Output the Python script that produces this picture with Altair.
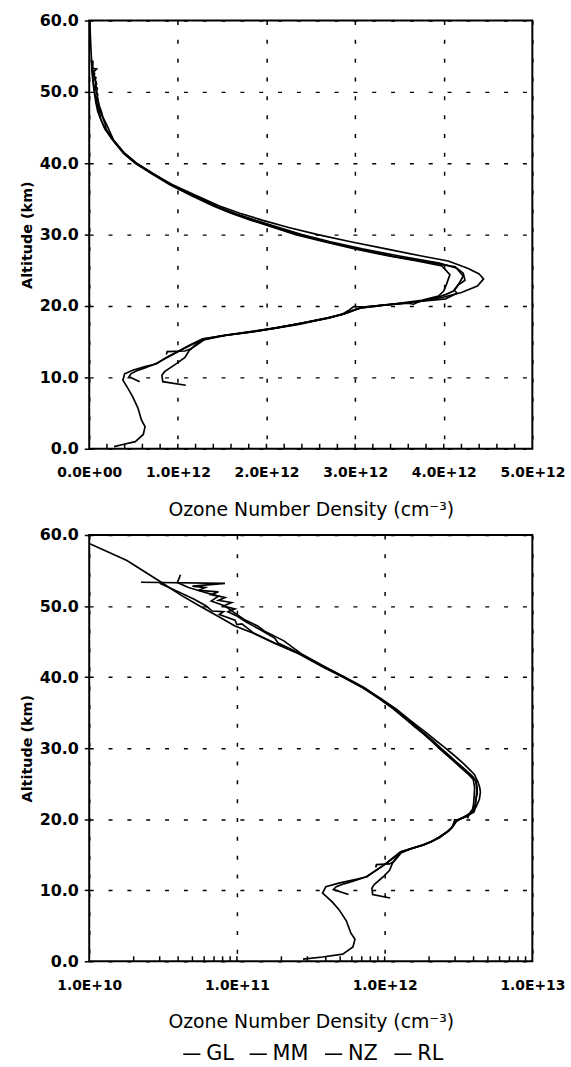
import altair as alt
import pandas as pd

SERIES = ["GL", "MM", "NZ", "RL"]

# Altitude (km) and ozone number density (units of 1e12 cm^-3)
GL_ALT = [60.0, 58.8, 56.4, 53.5, 51.5, 50.0, 48.4, 47.2, 46.2, 44.8, 43.3, 41.4, 40.0, 38.5, 37.0,
          35.5, 34.0, 33.0, 32.0, 31.0, 30.0, 29.0, 28.0, 27.0, 26.3, 25.3, 24.5, 23.8, 22.8, 21.9,
          21.2, 20.6, 20.1, 19.7, 19.0, 18.4, 17.6, 16.9, 16.4, 15.9, 15.4, 14.5, 13.5, 12.8, 11.9,
          11.5, 11.0, 10.5, 9.6, 8.4, 7.3, 5.7, 4.0, 3.1, 2.0, 1.0, 0.6, 0.3]
GL_VAL = [0.0085, 0.0100, 0.0180, 0.0300, 0.0420, 0.0560, 0.0770, 0.0970, 0.128, 0.178, 0.265, 0.390,
          0.525, 0.720, 0.940, 1.20, 1.47, 1.70, 1.96, 2.25, 2.58, 2.95, 3.35, 3.75, 4.05, 4.27, 4.40,
          4.45, 4.38, 4.20, 3.98, 3.70, 3.30, 3.05, 2.90, 2.72, 2.40, 2.10, 1.85, 1.55, 1.28, 1.13,
          0.98, 0.87, 0.76, 0.63, 0.49, 0.40, 0.38, 0.44, 0.49, 0.55, 0.59, 0.63, 0.61, 0.52, 0.38, 0.28]

MM_ALT = [54.4, 53.3, 52.6, 51.9, 51.4, 50.7, 50.0, 49.0, 48.1, 47.2, 46.5, 45.1, 43.3, 41.4, 40.0,
          38.5, 37.0, 35.5, 34.0, 33.0, 32.0, 31.0, 30.0, 29.0, 28.0, 27.0, 26.0, 25.5, 24.2, 23.3,
          22.1, 21.6, 21.2, 20.6, 20.25, 20.4, 19.9, 19.5, 18.9, 18.3, 17.5, 16.9, 16.4, 15.9, 15.4,
          14.6, 13.6, 12.8, 11.9, 11.3, 10.9, 10.5, 10.1, 9.4]
MM_VAL = [0.0415, 0.0395, 0.047, 0.061, 0.075, 0.067, 0.083, 0.097, 0.112, 0.138, 0.153, 0.208, 0.272,
          0.400, 0.535, 0.730, 0.930, 1.17, 1.42, 1.62, 1.85, 2.10, 2.36, 2.68, 3.02, 3.42, 3.88, 4.13,
          4.22, 4.18, 4.11, 4.02, 3.92, 3.72, 3.66, 3.60, 3.12, 3.00, 2.88, 2.68, 2.36, 2.08, 1.82,
          1.52, 1.30, 1.16, 1.00, 0.88, 0.75, 0.62, 0.53, 0.47, 0.45, 0.57]

NZ_ALT = [53.2, 52.0, 51.0, 50.0, 49.3, 49.2, 48.8, 48.0, 47.4, 47.5, 46.2, 44.8, 43.3, 41.4, 40.0,
          38.5, 37.0, 35.5, 34.0, 33.0, 32.0, 31.0, 30.0, 29.0, 28.0, 27.0, 26.3, 25.6, 24.4, 23.0,
          22.1, 21.4, 20.8, 20.3, 19.9, 19.9, 19.4, 18.8, 18.2, 17.4, 16.8, 16.3, 15.8, 15.2, 14.7,
          13.8, 12.8, 11.9, 10.8, 10.3, 9.4, 8.9]
NZ_VAL = [0.030, 0.040, 0.051, 0.062, 0.068, 0.081, 0.076, 0.097, 0.100, 0.108, 0.130, 0.180, 0.262,
          0.385, 0.52, 0.71, 0.91, 1.15, 1.40, 1.60, 1.83, 2.08, 2.33, 2.65, 3.00, 3.38, 3.70, 3.98,
          4.07, 4.03, 4.00, 3.94, 3.75, 3.45, 3.12, 2.98, 2.93, 2.85, 2.65, 2.35, 2.05, 1.80, 1.48,
          1.27, 1.21, 1.13, 1.08, 0.98, 0.85, 0.82, 0.83, 1.09]

RL_ALT = [53.35, 53.2, 52.8, 52.6, 52.2, 52.0, 51.6, 51.2, 50.8, 50.5, 50.0, 49.6, 49.2, 48.6, 47.8,
          46.8, 45.5, 44.8, 43.3, 41.4, 40.0, 38.5, 37.0, 35.5, 34.0, 33.0, 32.0, 31.0, 30.0, 29.0,
          28.0, 27.0, 26.0, 25.3, 24.6, 23.6, 23.0, 22.2, 21.8, 21.0, 20.6, 20.1, 19.7, 19.0, 18.3,
          17.6, 16.9, 16.4, 15.9, 15.3, 14.6, 14.0, 13.7, 13.6, 13.2]
RL_VAL = [0.0224, 0.083, 0.050, 0.061, 0.055, 0.075, 0.067, 0.083, 0.075, 0.092, 0.081, 0.097, 0.087,
          0.100, 0.115, 0.140, 0.180, 0.190, 0.270, 0.392, 0.530, 0.720, 0.930, 1.18, 1.43, 1.64,
          1.88, 2.14, 2.40, 2.72, 3.08, 3.50, 3.95, 4.15, 4.22, 4.24, 4.17, 4.12, 4.15, 4.02, 3.70,
          3.30, 3.05, 2.90, 2.70, 2.40, 2.10, 1.84, 1.55, 1.30, 1.22, 1.15, 1.08, 0.88, 0.87]

Y_TICKS = [0, 5, 10, 15, 20, 25, 30, 35, 40, 45, 50, 55, 60]
X_LIN_MAJOR = [0, 1e12, 2e12, 3e12, 4e12, 5e12]
X_LIN_MINOR = [0.2, 0.4, 0.6, 0.8, 1.0, 1.2, 1.4, 1.6, 1.8, 2.0, 2.2, 2.4, 2.6, 2.8, 3.0,
               3.2, 3.4, 3.6, 3.8, 4.0, 4.2, 4.4, 4.6, 4.8]  # 1e12
X_LOG_MAJOR = [1e10, 1e11, 1e12, 1e13]
X_LOG_MINOR = [2e10, 3e10, 4e10, 5e10, 6e10, 7e10, 8e10, 9e10, 1e11,
               2e11, 3e11, 4e11, 5e11, 6e11, 7e11, 8e11, 9e11, 1e12,
               2e12, 3e12, 4e12, 5e12, 6e12, 7e12, 8e12, 9e12]

rows = []
for name, alts, vals in [("GL", GL_ALT, GL_VAL), ("MM", MM_ALT, MM_VAL),
                         ("NZ", NZ_ALT, NZ_VAL), ("RL", RL_ALT, RL_VAL)]:
    for i, (a, v) in enumerate(zip(alts, vals)):
        rows.append({"series": name, "idx": i, "alt": a, "dens": v * 1e12})
df = pd.DataFrame(rows)

df_lin_minor = pd.DataFrame({"v": [m * 1e12 for m in X_LIN_MINOR]})
df_log_minor = pd.DataFrame({"v": X_LOG_MINOR})

LABEL_EXPR = "datum.value == 0 ? '0.0E+00' : replace(format(datum.value, '.1e'), 'e', 'E')"
FONT = "DejaVu Sans"
XTITLE = "Ozone Number Density (cm⁻³)"

legend = alt.Legend(orient="none", legendX=93, legendY=1032, direction="horizontal", title=None,
                    symbolType="stroke", symbolSize=300, symbolStrokeWidth=1.6,
                    labelFont=FONT, labelFontSize=21, labelColor="black", labelOffset=4,
                    columnPadding=12, padding=0)

color = alt.Color("series:N", scale=alt.Scale(domain=SERIES, range=["black"] * 4), legend=legend)

y_enc = alt.Y("alt:Q", scale=alt.Scale(domain=[0, 60], nice=False, zero=False),
              axis=alt.Axis(values=Y_TICKS, format=".1f", title="Altitude (km)"))


def x_axis(values):
    return alt.Axis(values=values, labelExpr=LABEL_EXPR, title=XTITLE, ticks=False,
                    labelPadding=17, titlePadding=21, titleFontSize=19, titleFontWeight="normal")


top_lines = alt.Chart(df).mark_line(clip=True, strokeWidth=1.7).encode(
    x=alt.X("dens:Q", scale=alt.Scale(domain=[0, 5e12], nice=False, zero=False),
            axis=x_axis(X_LIN_MAJOR)),
    y=y_enc, color=color, order="idx:Q")
top_ticks = alt.Chart(df_lin_minor).mark_rule(color="black", strokeWidth=1.5).encode(
    x="v:Q", y=alt.datum(0), y2=alt.datum(0.7))
top = alt.layer(top_lines, top_ticks).properties(width=447, height=432)

bot_lines = alt.Chart(df).mark_line(clip=True, strokeWidth=1.7).encode(
    x=alt.X("dens:Q", scale=alt.Scale(type="log", domain=[1e10, 1e13], nice=False),
            axis=x_axis(X_LOG_MAJOR)),
    y=y_enc, color=color, order="idx:Q")
bot_ticks = alt.Chart(df_log_minor).mark_rule(color="black", strokeWidth=1.5).encode(
    x="v:Q", y=alt.datum(0), y2=alt.datum(0.7))
bottom = alt.layer(bot_lines, bot_ticks).properties(width=447, height=430)

chart = alt.vconcat(top, bottom, spacing=6).resolve_scale(color="shared").properties(
    padding={"left": 18, "top": 7, "right": 5, "bottom": 2}
).configure_view(stroke="black", strokeWidth=2).configure_axis(
    labelFont=FONT, labelFontWeight="bold", labelColor="black",
    titleFont=FONT, titleColor="black",
    gridColor="black", gridDash=[4, 15], gridWidth=1.5, gridOpacity=1,
    domain=False, labelFlush=False, labelOverlap=False,
).configure_axisX(
    labelFontSize=14
).configure_axisY(
    labelFontSize=16, tickSize=5, tickColor="black", tickWidth=1.5, labelPadding=6,
    titleFontSize=14.5, titleFontWeight="bold", titlePadding=5
)

chart.save("out.html", embed_options={"renderer": "svg", "actions": False})
